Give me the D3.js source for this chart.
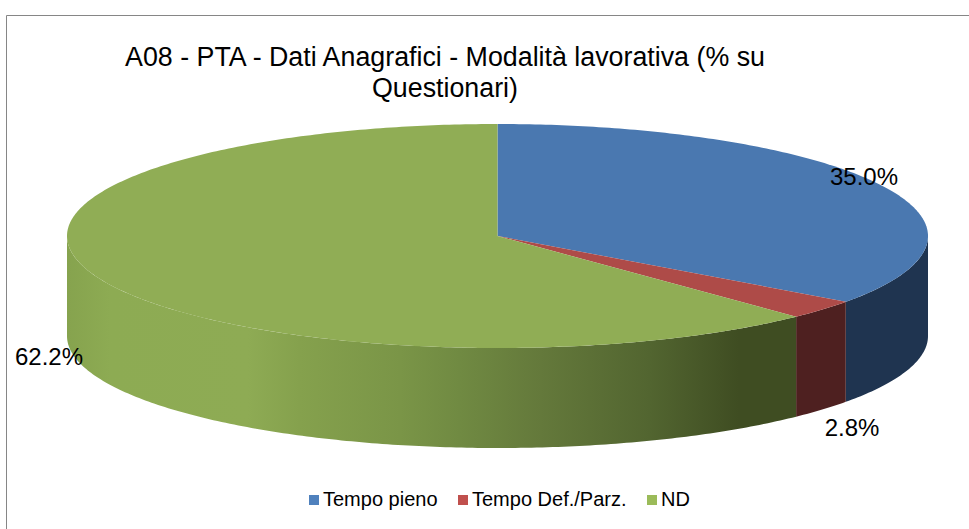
<!DOCTYPE html>
<html>
<head>
<meta charset="utf-8">
<script src="https://cdn.jsdelivr.net/npm/d3@7"></script>
<style>
    html, body { margin: 0; padding: 0; background: #fff; }
    text { font-family: "Liberation Sans", Arial, sans-serif; fill: #000; }
</style>
</head>
<body>
<svg id="chart" width="969" height="529"></svg>
<script>
/* A08 - 3D pie, drawn by hand since d3 has no tilted pie */

const categories = ['Tempo pieno', 'Tempo Def./Parz.', 'ND'];
const values = [35.0, 2.8, 62.2];
const topColors = ['#4a78b0', '#ae4b48', '#90ad55'];
const legendColors = ['#4f81bd', '#c0504d', '#9bbb59'];
const sideColors = ['#1f3450', '#4e2020', null];
const titleLines = ['A08 - PTA - Dati Anagrafici - Modalità lavorativa (% su', 'Questionari)'];

const svg = d3.select('#chart');

// unit circle -> tilted ellipse on screen
const x = d3.scaleLinear().domain([-1, 1]).range([67, 928]);
const y = d3.scaleLinear().domain([-1, 1]).range([124, 348]);
const depth = 100;

const pie = d3.pie().sort(null).value(d => d);
const slices = pie(values);

// angle is clockwise from 12 o'clock, same as d3.pie
const px = a => x(Math.sin(a));
const py = a => y(-Math.cos(a));

function arcPoints(a0, a1, dy) {
    const n = Math.max(2, Math.ceil((a1 - a0) * 80));
    return d3.range(n + 1).map(i => {
        const a = a0 + (a1 - a0) * i / n;
        return [px(a), py(a) + dy];
    });
}

const line = d3.line();

// Wall gradient for the big slice
const defs = svg.append('defs');
const grad = defs.append('linearGradient')
    .attr('id', 'wallGreen')
    .attr('gradientUnits', 'userSpaceOnUse')
    .attr('x1', x(-1)).attr('x2', x(1)).attr('y1', 0).attr('y2', 0);
[
    [0, '#86a34e'],
    [0.05, '#8dab53'],
    [0.21, '#8eab54'],
    [0.27, '#85a14d'],
    [0.387, '#7a9547'],
    [0.456, '#708a42'],
    [0.55, '#64793b'],
    [0.677, '#526530'],
    [0.78, '#3f4d22'],
    [1, '#3f4d22']
].forEach(s => grad.append('stop').attr('offset', s[0]).attr('stop-color', s[1]));

// Frame, only top and left edges show in the picture
svg.append('path')
    .attr('d', 'M6.5,529V15.5H969')
    .attr('fill', 'none')
    .attr('stroke', '#868686')
    .attr('stroke-width', 1);

// Side walls (front half only: PI/2 .. 3PI/2)
slices.forEach((s, i) => {
    const a0 = Math.max(s.startAngle, Math.PI / 2);
    const a1 = Math.min(s.endAngle, Math.PI * 1.5);
    if (a1 <= a0) return;
    const pts = arcPoints(a0, a1, 0).concat(arcPoints(a0, a1, depth).reverse());
    svg.append('path')
        .attr('d', line(pts) + 'Z')
        .attr('fill', sideColors[i] || 'url(#wallGreen)');
});

// Top faces
slices.forEach((s, i) => {
    const pts = [[x(0), y(0)]].concat(arcPoints(s.startAngle, s.endAngle, 0));
    svg.append('path')
        .attr('d', line(pts) + 'Z')
        .attr('fill', topColors[i]);
});

// Title
const title = svg.append('text')
    .attr('text-anchor', 'middle')
    .attr('font-size', 26.8);
titleLines.forEach((t, i) => {
    title.append('tspan')
        .attr('x', 445)
        .attr('y', 66 + i * 31)
        .text(t);
});

// Data labels
const labelPos = [[864, 185], [852, 436], [49, 365]];
values.forEach((v, i) => {
    svg.append('text')
        .attr('x', labelPos[i][0])
        .attr('y', labelPos[i][1])
        .attr('text-anchor', 'middle')
        .attr('font-size', 24)
        .text(d3.format('.1f')(v) + '%');
});

// Legend
const legendX = [309, 458, 647];
categories.forEach((c, i) => {
    svg.append('rect')
        .attr('x', legendX[i])
        .attr('y', 495)
        .attr('width', 10)
        .attr('height', 10)
        .attr('fill', legendColors[i]);
    svg.append('text')
        .attr('x', legendX[i] + 14)
        .attr('y', 506)
        .attr('font-size', 20)
        .text(c);
});
</script>
</body>
</html>
